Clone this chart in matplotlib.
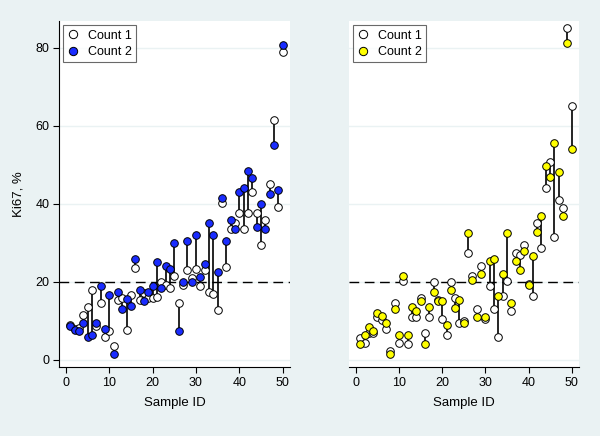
import matplotlib
matplotlib.use("Agg")
import matplotlib.pyplot as plt
from matplotlib.lines import Line2D
import numpy as np

plt.rcParams['font.family'] = ['Liberation Sans', 'DejaVu Sans']

sample_id = list(range(1, 51))

left_count1 = [9.0, 8.0, 8.2, 11.5, 13.6, 18.0, 8.7, 14.7, 6.0, 7.5,
               3.6, 15.4, 15.9, 7.7, 16.7, 23.5, 15.4, 17.1, 15.8, 16.0,
               16.2, 20.1, 19.2, 18.4, 21.5, 14.5, 19.2, 23.0, 21.0, 23.3,
               19.0, 23.0, 17.5, 16.9, 12.8, 40.2, 23.9, 33.5, 35.0, 37.6,
               33.5, 37.6, 43.0, 37.6, 29.5, 35.9, 45.0, 61.5, 39.2, 79.0]
left_count2 = [8.7, 7.7, 7.5, 9.6, 6.0, 6.4, 9.6, 19.0, 7.9, 16.7,
               1.5, 17.4, 13.0, 15.6, 13.9, 26.0, 18.0, 15.0, 17.5, 19.0,
               25.0, 18.5, 24.0, 23.4, 30.0, 7.4, 19.9, 30.5, 20.1, 32.0,
               21.4, 24.5, 35.0, 32.0, 22.5, 41.6, 30.6, 36.0, 33.5, 43.0,
               44.2, 48.5, 46.6, 34.0, 40.0, 33.5, 42.5, 55.0, 43.6, 80.8]

right_count1 = [5.6, 4.4, 7.0, 7.0, 11.0, 10.3, 7.9, 2.2, 14.7, 4.4,
                20.3, 4.1, 10.9, 10.9, 15.9, 7.0, 10.9, 20.1, 15.5, 10.4,
                6.4, 20.1, 16.0, 9.4, 9.9, 27.5, 21.6, 13.0, 24.1, 10.4,
                19.0, 13.0, 6.0, 16.4, 20.3, 12.6, 27.5, 26.9, 29.5, 19.6,
                16.5, 35.0, 28.6, 44.0, 50.8, 31.6, 41.0, 39.0, 85.2, 65.0]
right_count2 = [4.0, 6.4, 8.5, 7.4, 12.1, 11.4, 9.6, 1.5, 13.0, 6.4,
                21.5, 6.4, 13.5, 12.6, 15.1, 4.0, 13.5, 17.5, 15.0, 15.0,
                9.0, 18.0, 13.4, 15.4, 9.4, 32.5, 20.5, 10.9, 22.0, 10.9,
                25.5, 25.9, 16.4, 22.0, 32.5, 14.5, 25.4, 23.1, 27.9, 19.2,
                26.7, 32.9, 37.0, 49.6, 47.0, 55.5, 48.1, 37.0, 81.2, 54.0]

x_ticks = [0, 10, 20, 30, 40, 50]
y_ticks = [0, 20, 40, 60, 80]
labels = ["Count 1", "Count 2"]

BG = '#EAF2F3'
W, H = 600, 436
fig = plt.figure(figsize=(W / 100, H / 100), dpi=100, facecolor=BG)

ax1 = fig.add_axes([59 / W, 1 - 367 / H, 231 / W, 346 / H])
ax2 = fig.add_axes([349 / W, 1 - 367 / H, 230 / W, 346 / H])


def draw(ax, c1, c2, color, show_y):
    ax.set_facecolor('white')
    ax.set_xlim(-1.6, 51.7)
    ax.set_ylim(-1.8, 86.9)
    for yv in y_ticks:
        ax.axhline(yv, color=BG, lw=1.0, zorder=0)
    ax.axhline(20, color='black', lw=1.0, ls=(0, (7, 4)), zorder=1)
    ax.vlines(sample_id, c1, c2, color='black', lw=1.2, zorder=2)
    ax.scatter(sample_id, c1, s=30, facecolor='white', edgecolor='black',
               linewidths=0.7, zorder=3)
    ax.scatter(sample_id, c2, s=30, facecolor=color, edgecolor='black',
               linewidths=0.7, zorder=4)
    ax.set_xticks(x_ticks)
    ax.set_yticks(y_ticks)
    for s in ['top', 'right']:
        ax.spines[s].set_visible(False)
    ax.spines['bottom'].set_linewidth(0.8)
    ax.spines['left'].set_linewidth(0.8)
    ax.tick_params(direction='out', length=4, width=0.8, labelsize=9, pad=3,
                   colors='black')
    if not show_y:
        ax.spines['left'].set_visible(False)
        ax.tick_params(axis='y', left=False, labelleft=False)
    ax.set_xlabel("Sample ID", fontsize=9.5, labelpad=6)
    handles = [
        Line2D([], [], marker='o', ls='none', markersize=6, markerfacecolor='white',
               markeredgecolor='black', markeredgewidth=0.7),
        Line2D([], [], marker='o', ls='none', markersize=6, markerfacecolor=color,
               markeredgecolor='black', markeredgewidth=0.7),
    ]
    leg = ax.legend(handles, labels, loc='upper left', fontsize=9,
                    frameon=True, fancybox=False, borderaxespad=0.35,
                    handlelength=0.8, handletextpad=0.8, borderpad=0.35,
                    labelspacing=0.35)
    leg.get_frame().set_edgecolor('#444444')
    leg.get_frame().set_linewidth(0.8)


draw(ax1, left_count1, left_count2, '#1A2CFF', True)
draw(ax2, right_count1, right_count2, '#FFFF00', False)
ax1.set_ylabel("Ki67, %", fontsize=9.5, labelpad=8)

fig.savefig("out.png", dpi=100, facecolor=BG)
